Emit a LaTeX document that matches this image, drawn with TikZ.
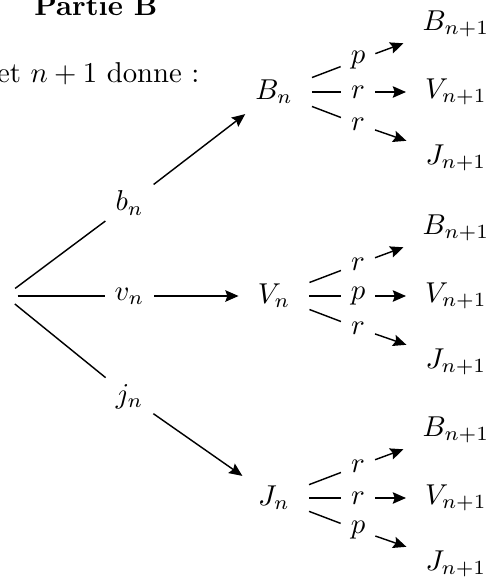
\documentclass[tikz,border=0pt]{standalone}
\usetikzlibrary{arrows.meta}
\begin{document}
\begin{tikzpicture}[x=0.348pt,y=-0.348pt,
  state/.style={inner xsep=6.5pt,inner ysep=3.33pt},
  prob/.style={inner sep=3.33pt},
  arr/.style={-{Stealth[length=4.6pt,width=4pt,inset=0.7pt]}},
  lin/.style={line width=0.5pt}]
\useasboundingbox (0,0) rectangle (487,578);
\node[anchor=base] (title) at (96,15) {\textbf{Partie B}};
\node[anchor=base east,inner sep=0pt] (intro) at (200,82) {et $n+1$ donne :};
\node[circle,minimum size=8.4pt,inner sep=0pt] (root) at (5,296) {};
\node[prob] (bn) at (129.5,203) {$b_n$};
\node[prob] (vn) at (129.5,296) {$v_n$};
\node[prob] (jn) at (129.5,397) {$j_n$};
\node[state] (Bn) at (274,92) {$B_n$};
\node[state] (Vn) at (274,296) {$V_n$};
\node[state] (Jn) at (274,498) {$J_n$};
\draw[lin] (root) -- (bn);
\draw[lin] (root) -- (vn);
\draw[lin] (root) -- (jn);
\draw[lin,arr] (bn) -- (Bn);
\draw[lin,arr] (vn) -- (Vn);
\draw[lin,arr] (jn) -- (Jn);
\foreach \P/\y/\a/\b/\c in {B/92/p/r/r, V/296/r/p/r, J/498/r/r/p}{
  \node[prob] (\P-la) at (358,{\y-32}) {$\a$};
  \node[prob] (\P-lb) at (358,\y) {$\b$};
  \node[prob] (\P-lc) at (358,{\y+32}) {$\c$};
  \node[state] (\P-ta) at (456,{\y-68}) {$B_{n+1}$};
  \node[state] (\P-tb) at (456,\y) {$V_{n+1}$};
  \node[state] (\P-tc) at (456,{\y+66}) {$J_{n+1}$};
  \draw[lin] (\P n) -- (\P-la);
  \draw[lin] (\P n) -- (\P-lb);
  \draw[lin] (\P n) -- (\P-lc);
  \draw[lin,arr] (\P-la) -- (\P-ta);
  \draw[lin,arr] (\P-lb) -- (\P-tb);
  \draw[lin,arr] (\P-lc) -- (\P-tc);
}
\end{tikzpicture}
\end{document}
